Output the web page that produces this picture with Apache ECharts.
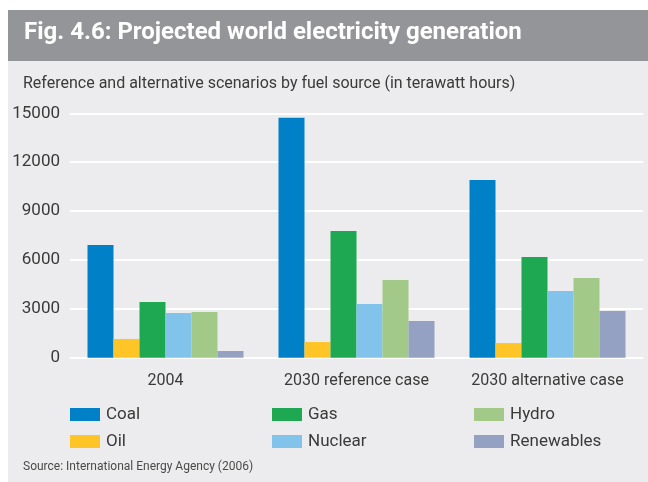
<!DOCTYPE html>
<html>
<head>
<meta charset="utf-8">
<title>Projected world electricity generation</title>
<script src="https://cdn.jsdelivr.net/npm/echarts@6/dist/echarts.min.js"></script>
<style>
  html, body { margin: 0; padding: 0; background: #ffffff; }
  #chart { width: 648px; height: 482px; }
</style>
</head>
<body>
<div id="chart"></div>
<script>
// Scenario categories and electricity generation by fuel (TWh)
const categories = ['2004', '2030 reference case', '2030 alternative case'];
const coal       = [6920, 14720, 10910];
const oil        = [1150, 960, 900];
const gas        = [3420, 7780, 6180];
const nuclear    = [2750, 3300, 4100];
const hydro      = [2800, 4770, 4890];
const renewables = [410, 2250, 2870];
const yTicks     = [0, 3000, 6000, 9000, 12000, 15000];

const FONT = 'Roboto, "Noto Sans", sans-serif';
const TEXT = '#3a3a3a';

const fuels = [
  { name: 'Coal',       data: coal,       color: '#0080c6' },
  { name: 'Oil',        data: oil,        color: '#ffc425' },
  { name: 'Gas',        data: gas,        color: '#1da851' },
  { name: 'Nuclear',    data: nuclear,    color: '#82c3eb' },
  { name: 'Hydro',      data: hydro,      color: '#a2c987' },
  { name: 'Renewables', data: renewables, color: '#94a1c2' }
];

// Legend laid out as three columns of two entries
const legendColumns = [['Coal', 'Oil'], ['Gas', 'Nuclear'], ['Hydro', 'Renewables']];
const legendLefts = [70, 272, 474];

const chart = echarts.init(document.getElementById('chart'), null, { renderer: 'canvas' });

chart.setOption({
  animation: false,
  textStyle: { fontFamily: FONT },
  graphic: [
    { type: 'rect', z: -10, shape: { x: 8, y: 10, width: 640, height: 472 }, style: { fill: '#ececee' } },
    { type: 'rect', z: -9, shape: { x: 8, y: 10, width: 640, height: 51 }, style: { fill: '#939598' } },
    { type: 'text', left: 24, top: 21, style: { text: 'Fig. 4.6: Projected world electricity generation', fill: '#ffffff', font: 'bold 24px ' + FONT } },
    { type: 'text', left: 23, top: 76, style: { text: 'Reference and alternative scenarios by fuel source (in terawatt hours)', fill: TEXT, font: '16px ' + FONT } },
    { type: 'text', left: 23, top: 461, style: { text: 'Source: International Energy Agency (2006)', fill: '#4a4a4a', font: '12px ' + FONT } }
  ],
  grid: { left: 70, right: 5, top: 113.3, bottom: 124.3, containLabel: false },
  legend: legendColumns.map((names, i) => ({
    data: names,
    orient: 'vertical',
    left: legendLefts[i],
    top: 406,
    padding: 0,
    itemWidth: 30,
    itemHeight: 13,
    itemGap: 10,
    icon: 'rect',
    selectedMode: false,
    textStyle: { fontSize: 17, color: TEXT, fontFamily: FONT, padding: [0, 0, 0, 1] }
  })),
  xAxis: {
    type: 'category',
    data: categories,
    axisLine: { show: false },
    axisTick: { show: false },
    axisLabel: { fontSize: 16, color: TEXT, margin: 15, interval: 0 }
  },
  yAxis: {
    type: 'value',
    min: yTicks[0],
    max: yTicks[yTicks.length - 1],
    interval: yTicks[1] - yTicks[0],
    axisLine: { show: false },
    axisTick: { show: false },
    axisLabel: { fontSize: 17, color: TEXT, margin: 10, formatter: v => String(v) },
    splitLine: { lineStyle: { color: '#ffffff', width: 2 } }
  },
  series: fuels.map(f => ({
    name: f.name,
    type: 'bar',
    data: f.data,
    barWidth: 26,
    barGap: '0%',
    itemStyle: { color: f.color },
    emphasis: { disabled: true }
  }))
});
</script>
</body>
</html>
